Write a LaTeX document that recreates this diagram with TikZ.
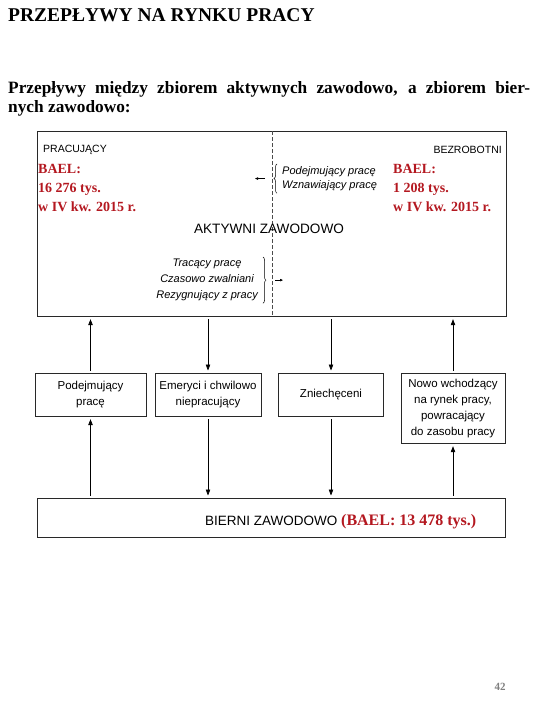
\documentclass[tikz,border=0pt]{standalone}
\usepackage{fontspec}
\setmainfont{Liberation Serif}
\setsansfont{Liberation Sans}
\usetikzlibrary{arrows.meta,calc,decorations.pathreplacing,positioning}
\definecolor{baelred}{RGB}{180,24,32}
\definecolor{edge}{RGB}{40,40,40}

\begin{document}
\begin{tikzpicture}[x=1pt,y=-1pt,>={Triangle[length=6pt,width=4.5pt]},
    every node/.style={inner sep=0pt},
    box/.style={draw=edge,line width=0.7pt,fill=white,align=center,font=\sffamily\fontsize{11.5}{16}\selectfont},
    bael/.style={text=baelred,align=left,font=\rmfamily\bfseries\fontsize{14}{19}\selectfont},
    flow/.style={->,line width=0.6pt,shorten <=2.5pt,shorten >=2.5pt},
    small/.style={-{Triangle[length=3pt,width=2.5pt]},line width=0.6pt},
    flowlist/.style={align=center,font=\sffamily\itshape\fontsize{11}{16}\selectfont,inner xsep=5pt,inner ysep=2pt},
    brace/.style={decorate,decoration={brace,amplitude=3pt},line width=0.5pt}]
    \useasboundingbox (0,0) rectangle (540,720);
    \node[anchor=base west,font=\rmfamily\bfseries\fontsize{19.5}{22}\selectfont] (title) at (8,21) {PRZEPŁYWY NA RYNKU PRACY};
    \node[anchor=north west,text width=522pt,align=justify,font=\rmfamily\bfseries\fontsize{17.3}{19}\selectfont] (sub) at (8,81)
      {Przepływy między zbiorem aktywnych zawodowo, a zbiorem bier-\linebreak nych zawodowo:};

    \node[draw=edge,line width=0.7pt,minimum width=469pt,minimum height=185pt,anchor=north west] (aktywni) at (37,131) {};
    \draw[dashed,dash pattern=on 4pt off 2pt,line width=0.5pt,black!70] (aktywni.north) -- (aktywni.south);
    \node[anchor=base west,font=\sffamily\fontsize{10.5}{12}\selectfont] (prac) at (43,152) {PRACUJĄCY};
    \node[anchor=base east,font=\sffamily\fontsize{10.5}{12}\selectfont] (bezrob) at (502,153) {BEZROBOTNI};
    \node[bael,anchor=north west] (baelP) at (38,164) {BAEL:\\16 276 tys.\\w IV kw. 2015 r.};
    \node[bael,anchor=north west] (baelB) at (393,164) {BAEL:\\1 208 tys.\\w IV kw. 2015 r.};
    \node[flowlist,align=left,font=\sffamily\itshape\fontsize{11}{14.5}\selectfont,anchor=north west] (wejscia) at (277,164)
      {Podejmujący pracę\\Wznawiający pracę};
    \draw[brace] (wejscia.south west) -- (wejscia.north west);
    \coordinate (doPrac) at ($(wejscia.west)+(-22,0)$);
    \draw[small] (wejscia.west) ++(-12,0) -- (doPrac);
    \node[anchor=base,font=\sffamily\fontsize{13.6}{16}\selectfont] (aktlbl) at (269,233) {AKTYWNI ZAWODOWO};
    \node[flowlist,anchor=north east] (wyjscia) at (263,257) {Tracący pracę\\Czasowo zwalniani\\Rezygnujący z pracy};
    \draw[brace] (wyjscia.north east) -- (wyjscia.south east);
    \coordinate (doBezrob) at ($(wyjscia.east)+(20,0)$);
    \draw[small] (wyjscia.east) ++(12,0) -- (doBezrob);

    \node[box,minimum width=111pt,minimum height=43pt,anchor=north] (podejm) at (90.5,373) {Podejmujący\\pracę};
    \node[box,minimum width=106pt,minimum height=43pt,anchor=north] (emeryci) at (208,373) {Emeryci i chwilowo\\niepracujący};
    \node[box,minimum width=105pt,minimum height=43pt,anchor=north] (zniech) at (331,373) {Zniechęceni};
    \node[box,minimum width=104pt,minimum height=70pt,anchor=north] (nowi) at (453,373) {Nowo wchodzący\\na rynek pracy,\\powracający\\do zasobu pracy};

    \node[draw=edge,line width=0.7pt,minimum width=468pt,minimum height=39pt,anchor=north west] (bierni) at (37,498) {};
    \node[anchor=base west,font=\sffamily\fontsize{13.5}{16}\selectfont] (biernilbl) at (205,525)
      {BIERNI ZAWODOWO {\rmfamily\bfseries\fontsize{16}{18}\selectfont\color{baelred}(BAEL: 13 478 tys.)}};

    \draw[flow] (podejm.north) -- (podejm.north |- aktywni.south);
    \draw[flow] (emeryci.north |- aktywni.south) -- (emeryci.north);
    \draw[flow] (zniech.north |- aktywni.south) -- (zniech.north);
    \draw[flow] (nowi.north) -- (nowi.north |- aktywni.south);
    \draw[flow] (podejm.south |- bierni.north) -- (podejm.south);
    \draw[flow] (emeryci.south) -- (emeryci.south |- bierni.north);
    \draw[flow] (zniech.south) -- (zniech.south |- bierni.north);
    \draw[flow] (nowi.south |- bierni.north) -- (nowi.south);

    \node[font=\rmfamily\bfseries\fontsize{11}{12}\selectfont,text=gray] (strona) at (500,687) {42};
  \end{tikzpicture}
\end{document}
